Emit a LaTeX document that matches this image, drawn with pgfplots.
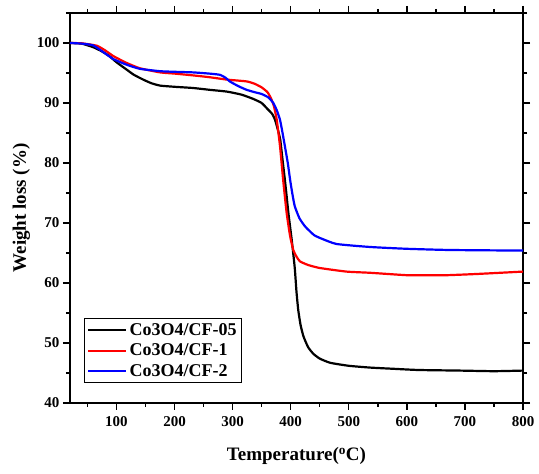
\documentclass[border=0pt]{standalone}
\usepackage{pgfplots}
\pgfplotsset{compat=1.18}
\usepackage{fontspec}
\setmainfont{Liberation Serif}

% TGA curves
\pgfplotstableread{
T w
20 100
40 99.9
60 99.3
75 98.6
88 97.8
100 96.8
117 95.6
130 94.7
146 93.9
160 93.3
175 92.9
200 92.7
232 92.5
260 92.2
290 91.9
315 91.4
335 90.7
350 90.0
361 88.9
368 88.2
373 87.2
378 85.5
382 83.9
386 80.5
390 77.2
393 74.5
396 71.7
402 67.0
407 62.5
410 58.5
413 55.5
417 53.0
422 51.1
430 49.3
439 48.2
450 47.4
468 46.7
500 46.2
537 45.9
577 45.7
620 45.5
692 45.4
750 45.3
800 45.4
}\cfzerofive

\pgfplotstableread{
T w
20 100
40 99.95
66 99.55
80 98.8
95 97.8
117 96.7
140 95.8
175 95.1
200 94.9
232 94.6
260 94.3
290 93.9
324 93.6
338 93.2
350 92.6
360 91.8
366 90.8
371 89.5
376 87.2
381.6 82.8
387 77.2
393 71.7
399 67.8
404.5 65.5
410 64.4
416 63.6
430 63.0
450 62.5
496 61.9
537 61.7
600 61.3
640 61.3
669 61.3
720 61.5
800 61.9
}\cfone

\pgfplotstableread{
T w
20 100
40 99.9
60 99.6
80 98.3
95 97.3
117 96.4
140 95.7
175 95.3
200 95.2
232 95.1
260 94.9
278 94.7
288 94.2
295 93.6
310 92.8
324 92.2
338 91.8
350 91.5
362 90.9
370 90.0
376 88.8
381.6 87.2
386 85.0
390 82.8
395 80.0
399 77.2
403 74.8
407 72.8
415 70.8
425 69.4
440 68.0
453 67.4
479 66.5
537 66.0
600 65.7
674 65.5
800 65.4
}\cftwo

\begin{document}
\begin{tikzpicture}
\begin{axis}[
  scale only axis,
  width=453pt, height=390pt,
  xmin=20, xmax=800, ymin=40, ymax=105,
  xtick={100,200,...,800},
  minor xtick={50,150,...,750},
  ytick={40,50,...,100},
  minor ytick={45,55,...,105},
  tick align=outside,
  major tick length=7pt,
  minor tick length=4pt,
  every tick/.style={black, line width=1.4pt},
  axis line style={line width=2pt},
  /pgf/number format/assume math mode=true,
  ticklabel style={font=\fontsize{15}{18}\selectfont\bfseries},
  xticklabel style={yshift=-3pt},
  xlabel={Temperature(\textsuperscript{o}C)},
  ylabel={Weight loss (\%)},
  label style={font=\fontsize{19}{22}\selectfont\bfseries},
  xlabel style={yshift=-14pt},
  legend style={at={(0.031,0.051)}, anchor=south west,
    draw=black, line width=0.7pt,
    font=\fontsize{18}{21}\selectfont\bfseries,
    row sep=3pt, inner xsep=3pt, inner ysep=3pt},
  legend cell align=left,
  legend image code/.code={\draw[#1, line width=2.2pt] (0pt,0pt) -- (38pt,0pt);},
  every axis plot/.append style={line width=2.2pt},
]
\addplot[black, smooth, tension=0.3] table {\cfzerofive};
\addlegendentry{Co3O4/CF-05}
\addplot[red, smooth, tension=0.3] table {\cfone};
\addlegendentry{Co3O4/CF-1}
\addplot[blue, smooth, tension=0.3] table {\cftwo};
\addlegendentry{Co3O4/CF-2}
\end{axis}
\path (current axis.south west) ++(-70pt,-71pt) rectangle ([xshift=16pt,yshift=13pt]current axis.north east);
\end{tikzpicture}
\end{document}
